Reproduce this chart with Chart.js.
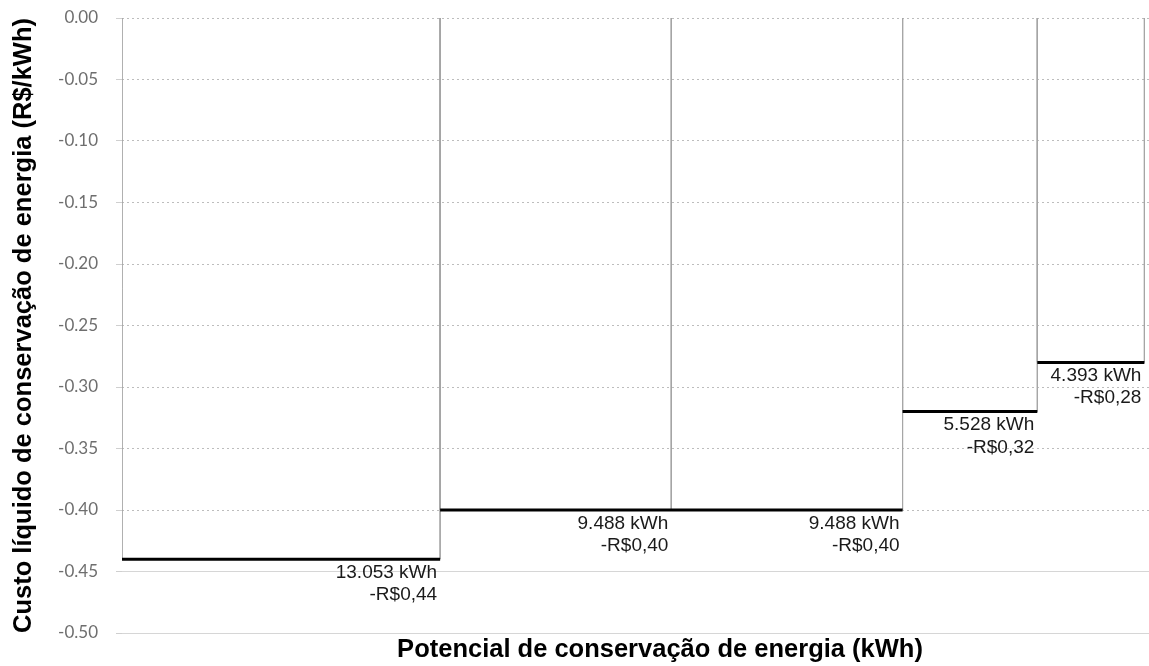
<!DOCTYPE html>
<html lang="pt-BR">
<head>
<meta charset="utf-8">
<title>Curva de custo de conservação de energia</title>
<script src="https://cdn.jsdelivr.net/npm/chart.js@4.4.1/dist/chart.umd.min.js"></script>
<style>
  html,body{margin:0;padding:0;background:#fff;overflow:hidden;}
  #wrap{width:1149px;height:666px;overflow:hidden;}
  canvas{display:block;}
</style>
</head>
<body>
<div id="wrap"><canvas id="curve" width="1200" height="666"></canvas></div>
<script>
/* ---------- DATA ---------- */
const potentials = [13053, 9488, 9488, 5528, 4393];     // kWh por medida
const costs      = [-0.44, -0.40, -0.40, -0.32, -0.28];  // R$/kWh
const yTicks     = [0, -0.05, -0.10, -0.15, -0.20, -0.25, -0.30, -0.35, -0.40, -0.45, -0.50];
const solidRows  = [-0.45, -0.50];                       // linhas de grade contínuas
const xMax = 44150;

/* ---------- HELPERS ---------- */
const $ = id => document.getElementById(id);
const fmtKwh  = v => String(v).replace(/\B(?=(\d{3})+(?!\d))/g,'.') + ' kWh';
const fmtCost = v => (v<0?'-':'') + 'R$' + Math.abs(v).toFixed(2).replace('.',',');
const isSolid = v => solidRows.some(s=>Math.abs(s-v)<1e-6);
const titleFont = {family:'"Liberation Sans", Arial, sans-serif', size:25.5, weight:'bold'};

// degraus (linha grossa) e laterais de cada bloco, separados por null
const steps = [], sides = [], blocks = [];
let cum = 0;
potentials.forEach((p,i)=>{
  const c = costs[i];
  steps.push({x:cum,y:c},{x:cum+p,y:c},{x:cum+p,y:null});
  sides.push({x:cum,y:0},{x:cum,y:c},{x:cum,y:null},{x:cum+p,y:0},{x:cum+p,y:c},{x:cum+p,y:null});
  blocks.push({end:cum+p,cost:c,l1:fmtKwh(p),l2:fmtCost(c)});
  cum += p;
});

/* ---------- LABELS PLUGIN ---------- */
const blockLabels = {
  id:'blockLabels',
  afterDatasetsDraw(chart){
    const {ctx, scales:{x,y}} = chart;
    ctx.save();
    ctx.font = '19px "Liberation Sans", Arial, sans-serif';
    ctx.fillStyle = '#1a1a1a';
    ctx.textAlign = 'right';
    ctx.textBaseline = 'alphabetic';
    blocks.forEach(b=>{
      const px = x.getPixelForValue(b.end) - 3, py = y.getPixelForValue(b.cost);
      ctx.fillText(b.l1, px, py + 18.5);
      ctx.fillText(b.l2, px, py + 41);
    });
    ctx.restore();
  }
};

// largura fixa do eixo y e sem folga extra em cima/baixo
const fixY = w => s => { s.width = w; s.paddingTop = 0; s.paddingBottom = 0; };

/* ---------- CHART ---------- */
new Chart($('curve').getContext('2d'),{
  type:'line',
  data:{datasets:[
    {label:'Custo', data:steps, borderColor:'#000', borderWidth:3, borderCapStyle:'butt',
     pointRadius:0, spanGaps:false, tension:0},
    {label:'Blocos', data:sides, borderColor:'#a6a6a6', borderWidth:1,
     pointRadius:0, spanGaps:false, tension:0}
  ]},
  options:{
    responsive:false, animation:false,
    layout:{padding:{top:18,right:2,bottom:0,left:0}},
    plugins:{legend:{display:false},tooltip:{enabled:false}},
    scales:{
      x:{type:'linear', min:0, max:xMax,
        ticks:{display:false}, grid:{display:false}, border:{display:false},
        title:{display:true, text:'Potencial de conservação de energia (kWh)', color:'#000',
          font:titleFont, padding:{top:0,bottom:1}},
        afterFit:s=>{s.height=33;}},
      y:{type:'linear', min:-0.5, max:0,
        afterBuildTicks:s=>{s.ticks=yTicks.map(v=>({value:v}));},
        ticks:{padding:18, color:'#6e6e6e', font:{family:'Lato, sans-serif', size:17},
          callback:v=>v.toFixed(2)},
        grid:{color:c=>isSolid(c.tick.value)?'rgba(0,0,0,0)':'#bdbdbd', lineWidth:1,
          tickLength:6, tickColor:'#cfcfcf'},
        border:{display:false, dash:[2,3]},
        title:{display:true, text:'Custo líquido de conservação de energia (R$/kWh)', color:'#000',
          font:titleFont, padding:{top:9,bottom:0}},
        afterFit:fixY(122)},
      // segunda escala só para as linhas contínuas do rodapé
      y2:{type:'linear', position:'left', min:-0.5, max:0,
        afterBuildTicks:s=>{s.ticks=yTicks.map(v=>({value:v}));},
        ticks:{display:false},
        grid:{color:c=>isSolid(c.tick.value)?'#d6d6d6':'rgba(0,0,0,0)', drawTicks:false, lineWidth:1},
        border:{display:false},
        afterFit:fixY(0)}
    }
  },
  plugins:[blockLabels]
});
</script>
</body>
</html>
